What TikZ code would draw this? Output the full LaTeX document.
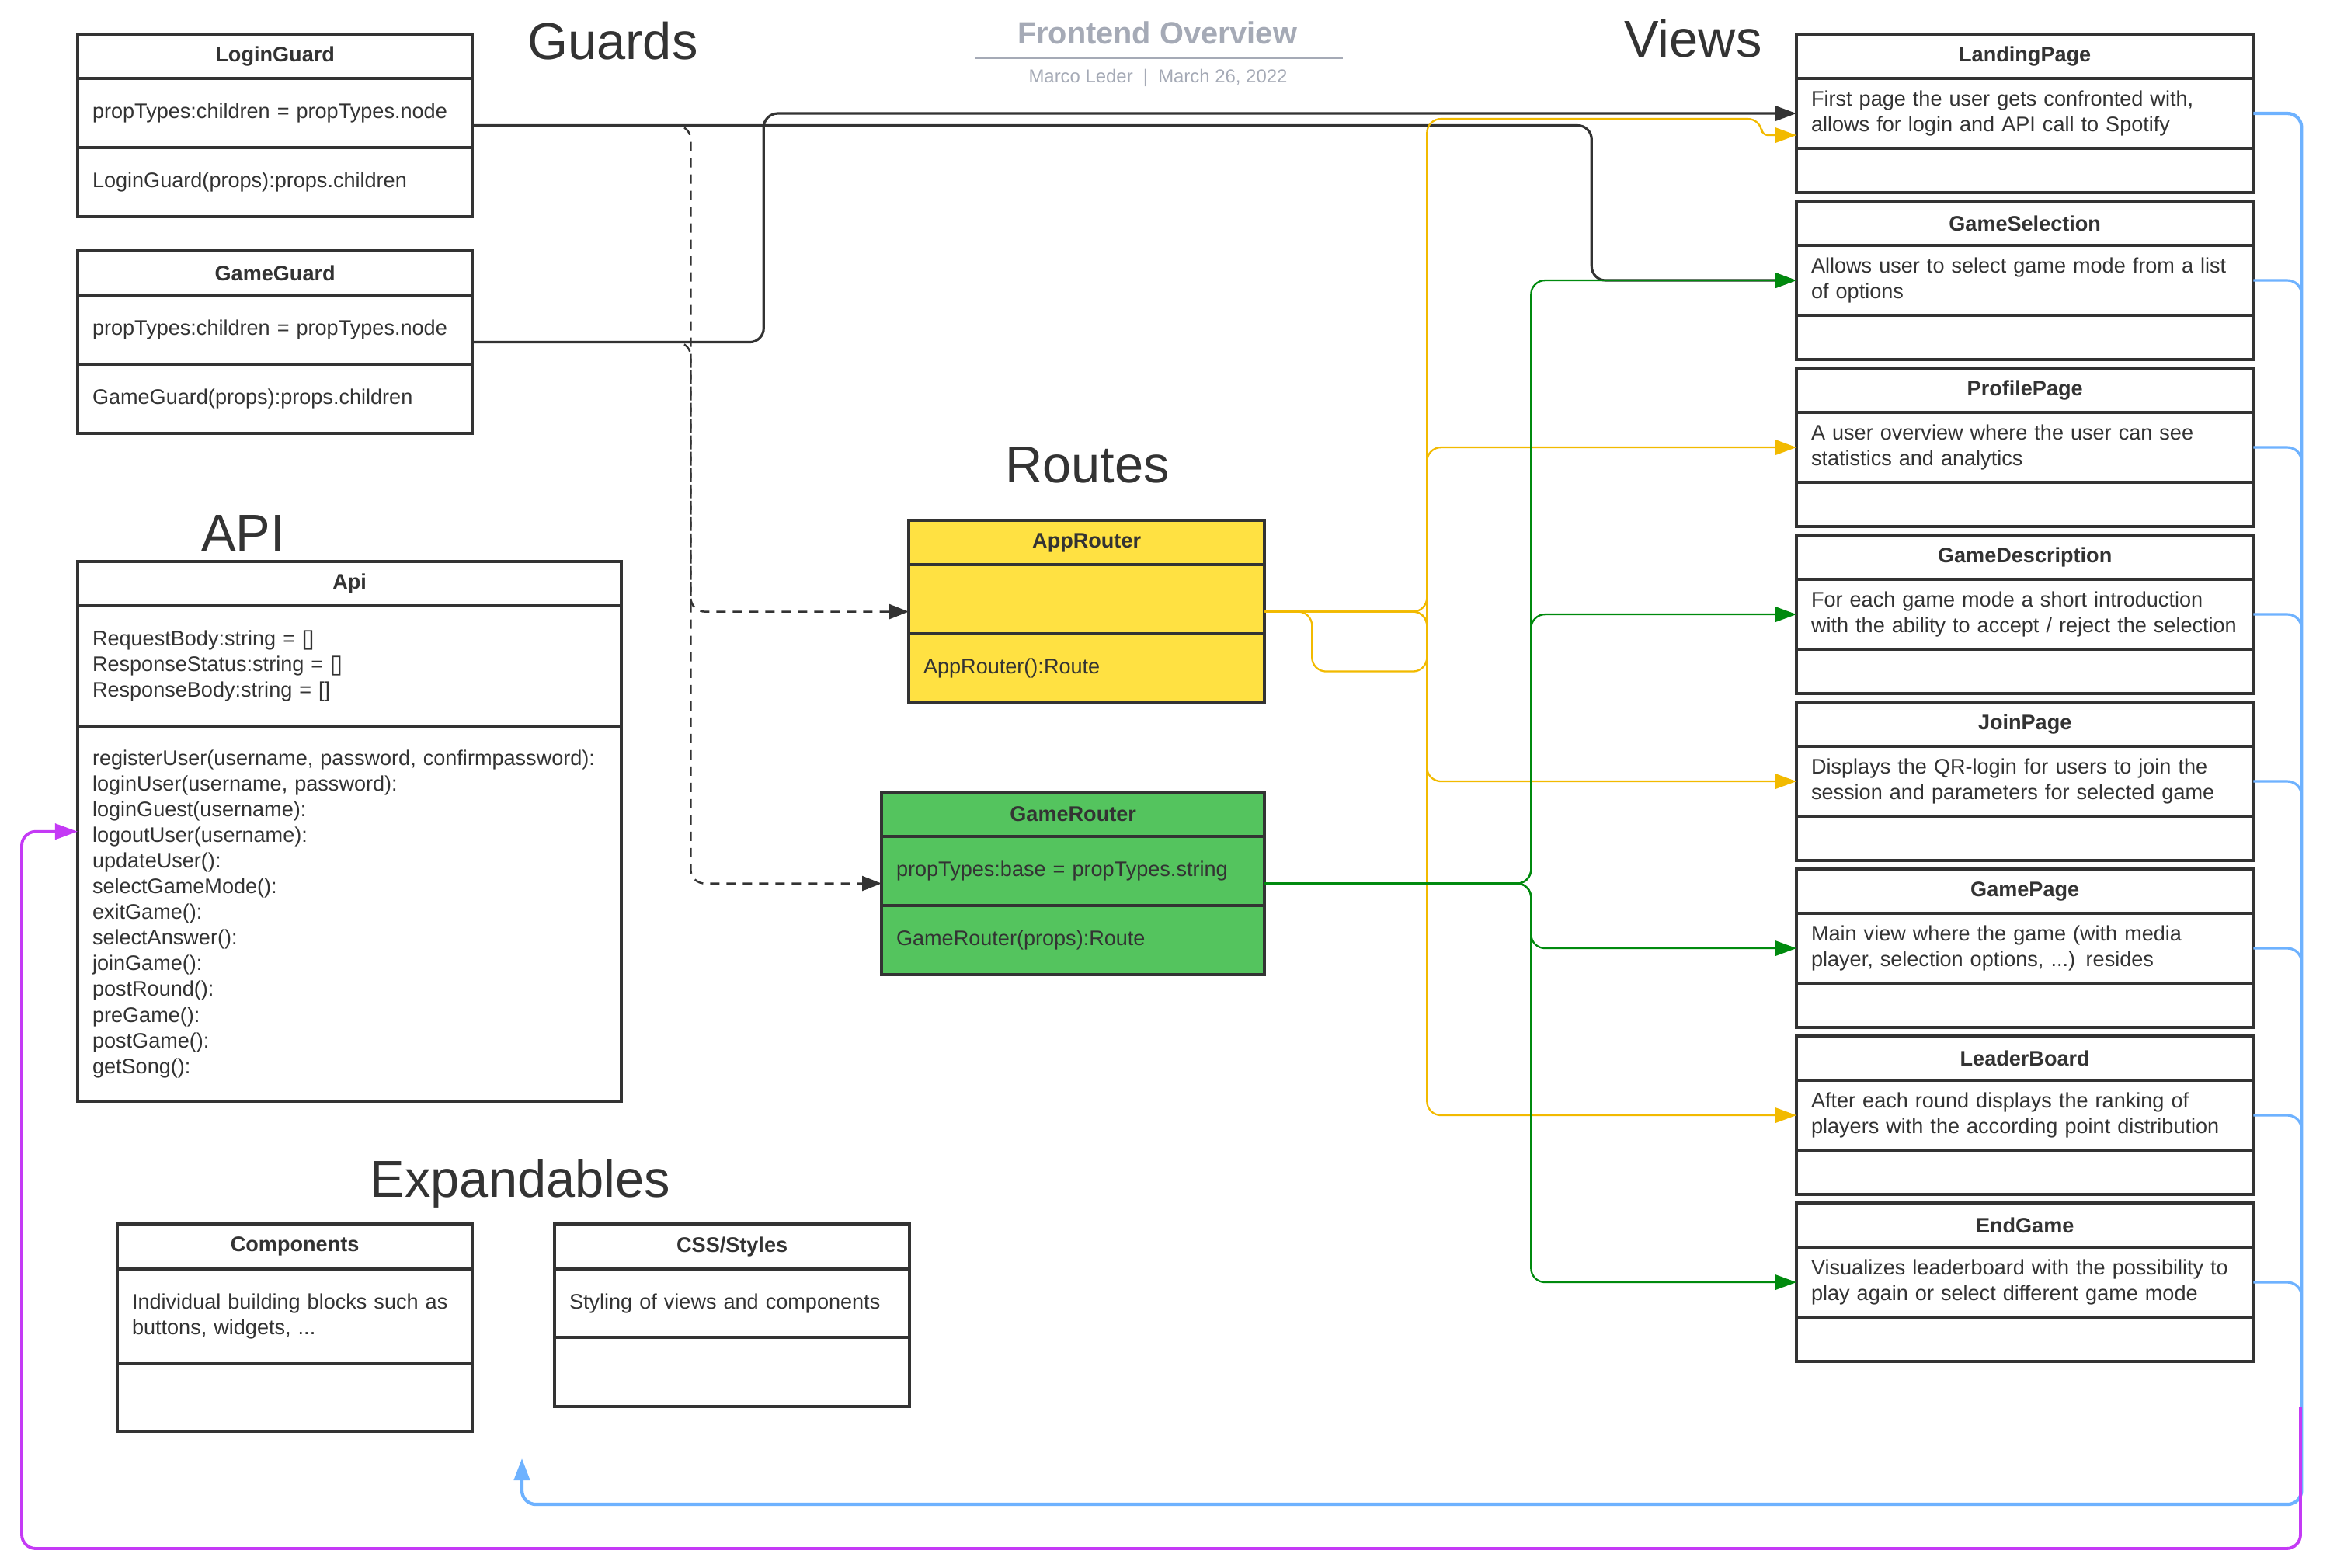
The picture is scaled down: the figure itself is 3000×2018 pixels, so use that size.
\documentclass[tikz,border=0pt]{standalone}
\usepackage{fontspec}
\setmainfont{Liberation Sans}
\usetikzlibrary{
  arrows.meta,
  positioning,
  fit,
  calc
}
\definecolor{LineDark}{RGB}{51,51,51}
\definecolor{TextDark}{RGB}{51,51,51}
\definecolor{TitleGray}{RGB}{165,170,182}
\definecolor{RouterYellow}{RGB}{255,225,66}
\definecolor{RouterGreen}{RGB}{84,196,94}
\definecolor{LinkYellow}{RGB}{242,186,0}
\definecolor{LinkGreen}{RGB}{0,138,14}
\definecolor{LinkBlue}{RGB}{110,178,255}
\definecolor{LinkPurple}{RGB}{196,58,245}
\tikzset{
  umlhead/.style={draw=LineDark,line width=1.1pt,fill=white,outer sep=0pt,inner xsep=1.9mm,inner ysep=0pt,minimum height=5.7mm,text width=#1,align=center,text=TextDark,font=\bfseries\fontsize{7.7}{9.4}\selectfont},
  umlpart/.style={draw=LineDark,line width=1.1pt,fill=white,outer sep=0pt,inner xsep=1.9mm,inner ysep=0pt,minimum height=8.9mm,text width=#1,align=left,text=TextDark,font=\fontsize{7.7}{9.4}\selectfont},
  viewhead/.style={umlhead=5.50cm},
  viewtext/.style={umlpart=5.50cm,minimum height=9mm},
  viewfoot/.style={umlpart=5.50cm,minimum height=5.7mm},
  classfit/.style={inner sep=0pt,outer sep=0pt},
  sectiontitle/.style={anchor=base,text=TextDark,font=\fontsize{19}{22}\selectfont},
  doctitle/.style={anchor=base,text=TitleGray,font=\bfseries\fontsize{11.3}{13}\selectfont},
  docsub/.style={anchor=base,text=TitleGray,font=\fontsize{6.8}{8}\selectfont},
  guardlink/.style={-{Triangle[length=2.7mm,width=1.9mm]},line width=0.9pt,draw=LineDark,rounded corners=1.8mm},
  routelink/.style={-{Triangle[length=2.5mm,width=1.9mm]},line width=0.7pt,draw=LineDark,dash pattern=on 1.2mm off 0.9mm,rounded corners=1.8mm},
  applink/.style={-{Triangle[length=2.8mm,width=2mm]},line width=0.65pt,draw=LinkYellow,rounded corners=1.8mm},
  gamelink/.style={-{Triangle[length=2.8mm,width=2mm]},line width=0.65pt,draw=LinkGreen,rounded corners=1.8mm},
  viewlink/.style={-{Triangle[length=2.8mm,width=2mm]},line width=1.2pt,draw=LinkBlue,rounded corners=1.8mm},
  viewbranch/.style={line width=0.9pt,draw=LinkBlue,rounded corners=1.8mm},
  apilink/.style={-{Triangle[length=2.9mm,width=2mm]},line width=1.1pt,draw=LinkPurple,rounded corners=1.8mm}
}

\begin{document}
\begin{tikzpicture}[x=0.01cm,y=-0.01cm]
\fill[white] (0,0) rectangle (3000,2018);
\useasboundingbox (0,0) rectangle (3000,2018);

% titles
\node[doctitle] (docTitle) at (1490,57) {Frontend Overview};
\draw[TitleGray,line width=0.9pt] ($(docTitle.base)+(-234,17.5)$) -- ++(473,0);
\node[docsub] (docSub) at (1491,106) {Marco Leder\hspace{0.55em}|\hspace{0.55em}March 26, 2022};
\node[sectiontitle] (guardsLabel) at (789,76.5) {Guards};
\node[sectiontitle] (viewsLabel) at (2180,73) {Views};
\node[sectiontitle] (routesLabel) at (1400,621) {Routes};
\node[sectiontitle] (apiLabel) at (313,709) {API};
\node[sectiontitle] (expLabel) at (670,1541) {Expandables};

% guards
\node[umlhead=4.70cm,anchor=north west] (lgHead) at (100,44) {LoginGuard};
\node[umlpart=4.70cm,below=0pt of lgHead] (lgAttr) {propTypes:children = propTypes.node};
\node[umlpart=4.70cm,below=0pt of lgAttr] (lgOps) {LoginGuard(props):props.children};
\node[classfit,fit=(lgHead)(lgOps)] (lg) {};

\node[umlhead=4.70cm,anchor=north west] (ggHead) at (100,323) {GameGuard};
\node[umlpart=4.70cm,below=0pt of ggHead] (ggAttr) {propTypes:children = propTypes.node};
\node[umlpart=4.70cm,below=0pt of ggAttr] (ggOps) {GameGuard(props):props.children};
\node[classfit,fit=(ggHead)(ggOps)] (gg) {};

% api
\node[umlhead=6.62cm,anchor=north west] (apiHead) at (100,723) {Api};
\node[umlpart=6.62cm,minimum height=15.5mm,below=0pt of apiHead] (apiAttr) {RequestBody:string = []\\ResponseStatus:string = []\\ResponseBody:string = []};
\node[umlpart=6.62cm,minimum height=48.3mm,below=0pt of apiAttr] (apiOps) {registerUser(username, password, confirmpassword):\\loginUser(username, password):\\loginGuest(username):\\logoutUser(username):\\updateUser():\\selectGameMode():\\exitGame():\\selectAnswer():\\joinGame():\\postRound():\\preGame():\\postGame():\\getSong():};
\node[classfit,fit=(apiHead)(apiOps)] (api) {};

% routes
\node[umlhead=4.20cm,fill=RouterYellow,anchor=north west] (arHead) at (1170,670) {AppRouter};
\node[umlpart=4.20cm,fill=RouterYellow,below=0pt of arHead] (arAttr) {};
\node[umlpart=4.20cm,fill=RouterYellow,below=0pt of arAttr] (arOps) {AppRouter():Route};
\node[classfit,fit=(arHead)(arOps)] (ar) {};

\node[umlhead=4.55cm,fill=RouterGreen,anchor=north west] (grHead) at (1135,1020) {GameRouter};
\node[umlpart=4.55cm,fill=RouterGreen,below=0pt of grHead] (grAttr) {propTypes:base = propTypes.string};
\node[umlpart=4.55cm,fill=RouterGreen,below=0pt of grAttr] (grOps) {GameRouter(props):Route};
\node[classfit,fit=(grHead)(grOps)] (gr) {};

% expandables
\node[umlhead=4.19cm,minimum height=5.8mm,anchor=north west] (cpHead) at (151,1576) {Components};
\node[umlpart=4.19cm,minimum height=12.2mm,below=0pt of cpHead] (cpBody) {Individual building blocks such as\\buttons, widgets, ...};
\node[umlpart=4.19cm,minimum height=8.7mm,below=0pt of cpBody] (cpFoot) {};

\node[umlhead=4.19cm,minimum height=5.8mm,anchor=north west] (csHead) at (714,1576) {CSS/Styles};
\node[umlpart=4.19cm,minimum height=8.8mm,below=0pt of csHead] (csBody) {Styling of views and components};
\node[umlpart=4.19cm,below=0pt of csBody] (csFoot) {};

% views
\node[viewhead,anchor=north west] (lpHead) at (2313,44) {LandingPage};
\node[viewtext,below=0pt of lpHead] (lpBody) {First page the user gets confronted with,\\allows for login and API call to Spotify};
\node[viewfoot,below=0pt of lpBody] (lpFoot) {};
\node[classfit,fit=(lpHead)(lpFoot)] (lp) {};

\node[viewhead,anchor=north west] (gsHead) at (2313,259) {GameSelection};
\node[viewtext,below=0pt of gsHead] (gsBody) {Allows user to select game mode from a list\\of options};
\node[viewfoot,below=0pt of gsBody] (gsFoot) {};
\node[classfit,fit=(gsHead)(gsFoot)] (gs) {};

\node[viewhead,anchor=north west] (ppHead) at (2313,474) {ProfilePage};
\node[viewtext,below=0pt of ppHead] (ppBody) {A user overview where the user can see\\statistics and analytics};
\node[viewfoot,below=0pt of ppBody] (ppFoot) {};
\node[classfit,fit=(ppHead)(ppFoot)] (pp) {};

\node[viewhead,anchor=north west] (gdHead) at (2313,689) {GameDescription};
\node[viewtext,below=0pt of gdHead] (gdBody) {For each game mode a short introduction\\with the ability to accept / reject the selection};
\node[viewfoot,below=0pt of gdBody] (gdFoot) {};
\node[classfit,fit=(gdHead)(gdFoot)] (gd) {};

\node[viewhead,anchor=north west] (jpHead) at (2313,904) {JoinPage};
\node[viewtext,below=0pt of jpHead] (jpBody) {Displays the QR-login for users to join the\\session and parameters for selected game};
\node[viewfoot,below=0pt of jpBody] (jpFoot) {};
\node[classfit,fit=(jpHead)(jpFoot)] (jp) {};

\node[viewhead,anchor=north west] (gpHead) at (2313,1119) {GamePage};
\node[viewtext,below=0pt of gpHead] (gpBody) {Main view where the game (with media\\player, selection options, ...) resides};
\node[viewfoot,below=0pt of gpBody] (gpFoot) {};
\node[classfit,fit=(gpHead)(gpFoot)] (gp) {};

\node[viewhead,anchor=north west] (lbHead) at (2313,1334) {LeaderBoard};
\node[viewtext,below=0pt of lbHead] (lbBody) {After each round displays the ranking of\\players with the according point distribution};
\node[viewfoot,below=0pt of lbBody] (lbFoot) {};
\node[classfit,fit=(lbHead)(lbFoot)] (lb) {};

\node[viewhead,anchor=north west] (egHead) at (2313,1549) {EndGame};
\node[viewtext,below=0pt of egHead] (egBody) {Visualizes leaderboard with the possibility to\\play again or select different game mode};
\node[viewfoot,below=0pt of egBody] (egFoot) {};
\node[classfit,fit=(egHead)(egFoot)] (eg) {};

% guards to views and routes
\draw[guardlink] (lg.east) -- ++(1441,0) |- (gs.west);
\draw[guardlink] (gg.east) -- ++(375,0) |- (lp.west);
\draw[routelink] (lg.east) -- ++(281,0) |- (ar.west);
\draw[routelink] (gg.east) -- ++(281,0) |- (gr.west);

% app router
\draw[applink] (ar.east) -- ++(209,0) |- ++(431,-634.5) [rounded corners=0.8mm] |- ([yshift=-0.28cm]lp.west);
\draw[applink] (ar.east) -- ++(61,0) |- ++(148,77) |- (pp.west);
\draw[applink] (ar.east) -- ++(209,0) |- (jp.west);
\draw[applink] (ar.east) -- ++(209,0) |- (lb.west);

% game router
\draw[gamelink] (gr.east) -- ++(343,0) |- (gs.west);
\draw[gamelink] (gr.east) -- ++(343,0) |- (gd.west);
\draw[gamelink] (gr.east) -- ++(343,0) |- (gp.west);
\draw[gamelink] (gr.east) -- ++(343,0) |- (eg.west);

% views to expandables and api
\coordinate (expIn) at (672,1878);
\coordinate (apiFeed) at (2962,1812);
\draw[viewlink] (lp.east) -| ++(62,1791) -| (expIn);
\draw[viewbranch] (gs.east) -- ++(62,0) -- ++(0,60);
\draw[viewbranch] (pp.east) -- ++(62,0) -- ++(0,60);
\draw[viewbranch] (gd.east) -- ++(62,0) -- ++(0,60);
\draw[viewbranch] (jp.east) -- ++(62,0) -- ++(0,60);
\draw[viewbranch] (gp.east) -- ++(62,0) -- ++(0,60);
\draw[viewbranch] (lb.east) -- ++(62,0) -- ++(0,60);
\draw[viewbranch] (eg.east) -- ++(62,0) -- ++(0,60);
\draw[apilink] (apiFeed) |- ++(-2934,182) |- (api.west);
\end{tikzpicture}
\end{document}
